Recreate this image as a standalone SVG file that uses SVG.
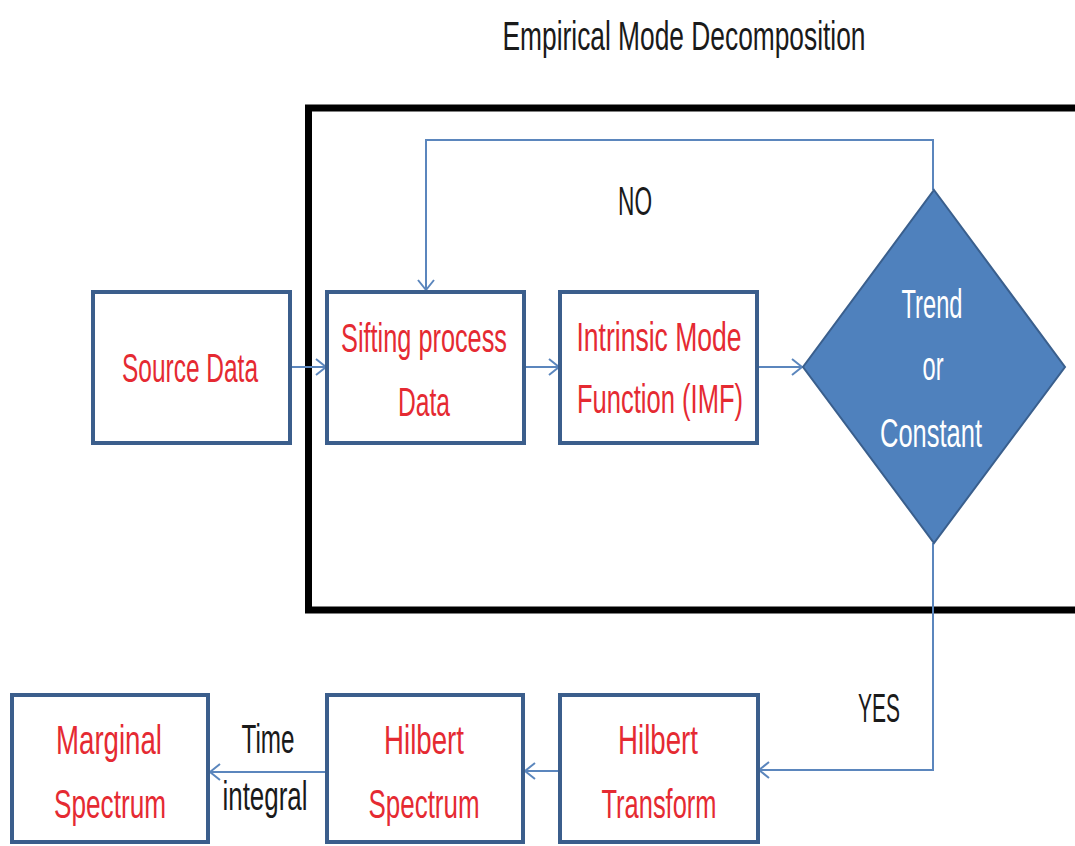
<svg xmlns="http://www.w3.org/2000/svg" width="1075" height="846" viewBox="0 0 1075 846">
  <style>
    .box { fill: #ffffff; stroke: #3b5e8c; stroke-width: 4; }
    .lbl { font-family: "Liberation Sans", Arial, sans-serif; font-size: 32px; fill: #e52a32; text-anchor: middle; }
    .blk { font-family: "Liberation Sans", Arial, sans-serif; font-size: 32px; fill: #1a1a1a; text-anchor: middle; }
    .wht { font-family: "Liberation Sans", Arial, sans-serif; font-size: 32px; fill: #ffffff; text-anchor: middle; }
    .conn { fill: none; stroke: #5b86bd; stroke-width: 2; marker-end: url(#chev); }
  </style>
  <defs>
    <marker id="chev" markerUnits="userSpaceOnUse" markerWidth="14" markerHeight="20" refX="11" refY="9" orient="auto">
      <path d="M1,1 L11,9 L1,17" fill="none" stroke="#5b86bd" stroke-width="2"/>
    </marker>
  </defs>
  <rect width="1075" height="846" fill="#ffffff"/>

  <!-- title; labels are drawn tall and narrow: translate to the baseline, stretch vertically -->
  <text class="blk" transform="translate(684 50) scale(1 1.25)" font-size="28" textLength="363" lengthAdjust="spacingAndGlyphs">Empirical Mode Decomposition</text>

  <!-- EMD frame -->
  <g id="emd-frame">
    <rect x="308.5" y="108" width="800" height="502" fill="none" stroke="#000000" stroke-width="7"/>
  </g>

  <!-- connectors -->
  <g id="connectors">
    <path class="conn" d="M291,367 L326,367"/>
    <path class="conn" d="M524,367 L559,367"/>
    <path class="conn" d="M757,367 L802,367"/>
    <path class="conn" d="M933,190 L933,140 L426,140 L426,290"/>
    <path class="conn" d="M933,543 L933,770 L759,770"/>
    <path class="conn" d="M560,771 L525,771"/>
    <path class="conn" d="M327,772 L210,772"/>
  </g>

  <g id="source-data">
    <rect class="box" x="93" y="292" width="197" height="151"/>
    <text class="lbl" transform="translate(190 382) scale(1 1.28)" textLength="136" lengthAdjust="spacingAndGlyphs">Source Data</text>
  </g>

  <g id="sifting">
    <rect class="box" x="327" y="292" width="197" height="151"/>
    <text class="lbl" transform="translate(424 352) scale(1 1.28)" textLength="166" lengthAdjust="spacingAndGlyphs">Sifting process</text>
    <text class="lbl" transform="translate(424 416) scale(1 1.28)" textLength="52" lengthAdjust="spacingAndGlyphs">Data</text>
  </g>

  <g id="imf">
    <rect class="box" x="560" y="292" width="197" height="151"/>
    <text class="lbl" transform="translate(659 351) scale(1 1.28)" textLength="165" lengthAdjust="spacingAndGlyphs">Intrinsic Mode</text>
    <text class="lbl" transform="translate(660 413) scale(1 1.28)" textLength="166" lengthAdjust="spacingAndGlyphs">Function (IMF)</text>
  </g>

  <g id="decision">
    <polygon points="934,190 1065,367 934,543 803,367" fill="#4f81bd" stroke="#3a5f8d" stroke-width="2"/>
    <text class="wht" transform="translate(932 318) scale(1 1.28)" textLength="61" lengthAdjust="spacingAndGlyphs">Trend</text>
    <text class="wht" transform="translate(933 380) scale(1 1.28)" textLength="21" lengthAdjust="spacingAndGlyphs">or</text>
    <text class="wht" transform="translate(931 447) scale(1 1.28)" textLength="102" lengthAdjust="spacingAndGlyphs">Constant</text>
  </g>

  <g id="hilbert-transform">
    <rect class="box" x="560" y="695" width="198" height="147"/>
    <text class="lbl" transform="translate(658 754) scale(1 1.28)" textLength="80" lengthAdjust="spacingAndGlyphs">Hilbert</text>
    <text class="lbl" transform="translate(659 818) scale(1 1.28)" textLength="115" lengthAdjust="spacingAndGlyphs">Transform</text>
  </g>

  <g id="hilbert-spectrum">
    <rect class="box" x="327" y="695" width="196" height="147"/>
    <text class="lbl" transform="translate(424 754) scale(1 1.28)" textLength="80" lengthAdjust="spacingAndGlyphs">Hilbert</text>
    <text class="lbl" transform="translate(424 818) scale(1 1.28)" textLength="111" lengthAdjust="spacingAndGlyphs">Spectrum</text>
  </g>

  <g id="marginal-spectrum">
    <rect class="box" x="12" y="695" width="196" height="147"/>
    <text class="lbl" transform="translate(109 754) scale(1 1.28)" textLength="106" lengthAdjust="spacingAndGlyphs">Marginal</text>
    <text class="lbl" transform="translate(110 818) scale(1 1.28)" textLength="112" lengthAdjust="spacingAndGlyphs">Spectrum</text>
  </g>

  <!-- connector labels -->
  <g id="labels">
    <text class="blk" transform="translate(635 215) scale(1 1.28)" textLength="34" lengthAdjust="spacingAndGlyphs">NO</text>
    <text class="blk" transform="translate(879 722) scale(1 1.28)" textLength="42" lengthAdjust="spacingAndGlyphs">YES</text>
    <text class="blk" transform="translate(268 753) scale(1 1.28)" textLength="53" lengthAdjust="spacingAndGlyphs">Time</text>
    <text class="blk" transform="translate(265 810) scale(1 1.28)" textLength="85" lengthAdjust="spacingAndGlyphs">integral</text>
  </g>
</svg>
